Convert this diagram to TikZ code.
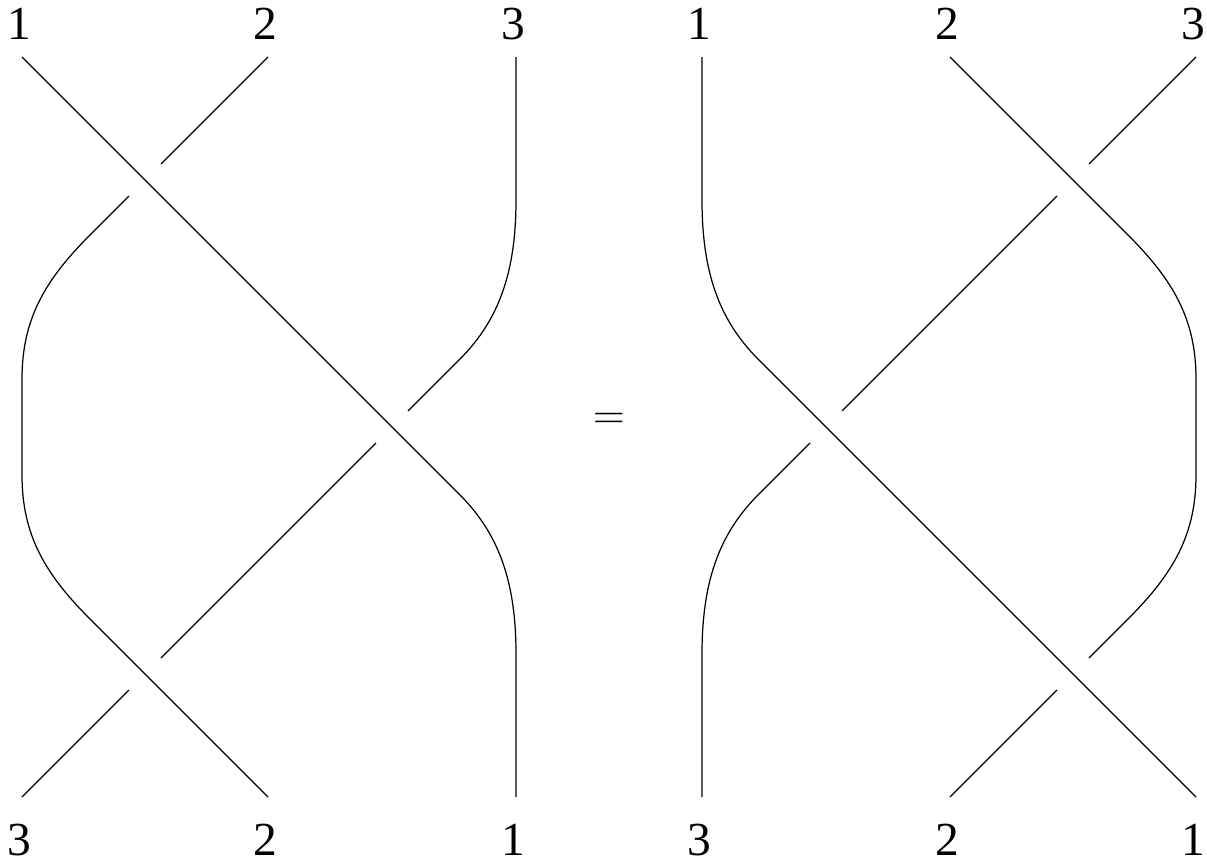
\documentclass[tikz,border=0pt]{standalone}
\usepackage{fontspec}
\setmainfont{Liberation Serif}
\usepackage{tikz}
\usepackage{xcolor}
\definecolor{ink}{HTML}{000000}
\tikzset{
  strand/.style={draw=ink,line width=0.35pt,line cap=butt},
  endlabel/.style={font=\fontsize{13.5}{16}\selectfont,inner sep=0pt,color=ink}
}

\begin{document}
\begin{tikzpicture}[x=1cm,y=1cm]
    \useasboundingbox (0,0) rectangle (12.07,8.62);
    % left braid: end points of the three strands
    \coordinate (la) at (0.22,8.05);  \coordinate (lb) at (2.68,8.05);
    \coordinate (lc) at (5.16,8.05);
    \coordinate (la') at (5.16,0.65); \coordinate (lb') at (2.68,0.65);
    \coordinate (lc') at (0.22,0.65);
    \node[endlabel] (ltop1) at (0.19,8.38) {1};
    \node[endlabel] (ltop2) at (2.65,8.38) {2};
    \node[endlabel] (ltop3) at (5.13,8.38) {3};
    \node[endlabel] (lbot3) at (0.19,0.22) {3};
    \node[endlabel] (lbot2) at (2.65,0.22) {2};
    \node[endlabel] (lbot1) at (5.13,0.22) {1};
    % strand 1 goes over both others
    \draw[strand] (la) -- (3.92,4.35) -- (4.60,3.67)
      .. controls (5.00,3.27) and (5.16,2.78) .. (5.16,2.08) -- (la');
    % strand 2: under strand 1, over strand 3
    \draw[strand] (lb) -- (1.61,6.98);
    \draw[strand] (1.29,6.66) -- (0.90,6.27)
      .. controls (0.45,5.82) and (0.22,5.43) .. (0.22,4.83) -- (0.22,3.87)
      .. controls (0.22,3.27) and (0.45,2.88) .. (0.90,2.43) -- (lb');
    % strand 3 goes under both others
    \draw[strand] (lc) -- (5.16,6.62)
      .. controls (5.16,5.92) and (5.00,5.43) .. (4.60,5.03) -- (4.08,4.51);
    \draw[strand] (3.76,4.19) -- (1.61,2.04);
    \draw[strand] (1.29,1.72) -- (lc');

    \node[endlabel,font=\fontsize{12}{14}\selectfont] (eq) at (6.09,4.41) {$=$};

    % right braid: end points of the three strands
    \coordinate (ra) at (7.02,8.05);  \coordinate (rb) at (9.50,8.05);
    \coordinate (rc) at (11.96,8.05);
    \coordinate (ra') at (11.96,0.65); \coordinate (rb') at (9.50,0.65);
    \coordinate (rc') at (7.02,0.65);
    \node[endlabel] (rtop1) at (6.99,8.38) {1};
    \node[endlabel] (rtop2) at (9.47,8.38) {2};
    \node[endlabel] (rtop3) at (11.93,8.38) {3};
    \node[endlabel] (rbot3) at (6.99,0.22) {3};
    \node[endlabel] (rbot2) at (9.47,0.22) {2};
    \node[endlabel] (rbot1) at (11.93,0.22) {1};
    % strand 1 goes over both others
    \draw[strand] (ra) -- (7.02,6.62)
      .. controls (7.02,5.92) and (7.18,5.43) .. (7.58,5.03) -- (ra');
    % strand 2: over strand 3, under strand 1
    \draw[strand] (rb) -- (11.28,6.27)
      .. controls (11.73,5.82) and (11.96,5.43) .. (11.96,4.83) -- (11.96,3.87)
      .. controls (11.96,3.27) and (11.73,2.88) .. (11.28,2.43) -- (10.89,2.04);
    \draw[strand] (10.57,1.72) -- (rb');
    % strand 3 goes under both others
    \draw[strand] (rc) -- (10.89,6.98);
    \draw[strand] (10.57,6.66) -- (8.42,4.51);
    \draw[strand] (8.10,4.19) -- (7.58,3.67)
      .. controls (7.18,3.27) and (7.02,2.78) .. (7.02,2.08) -- (rc');
  \end{tikzpicture}
\end{document}
